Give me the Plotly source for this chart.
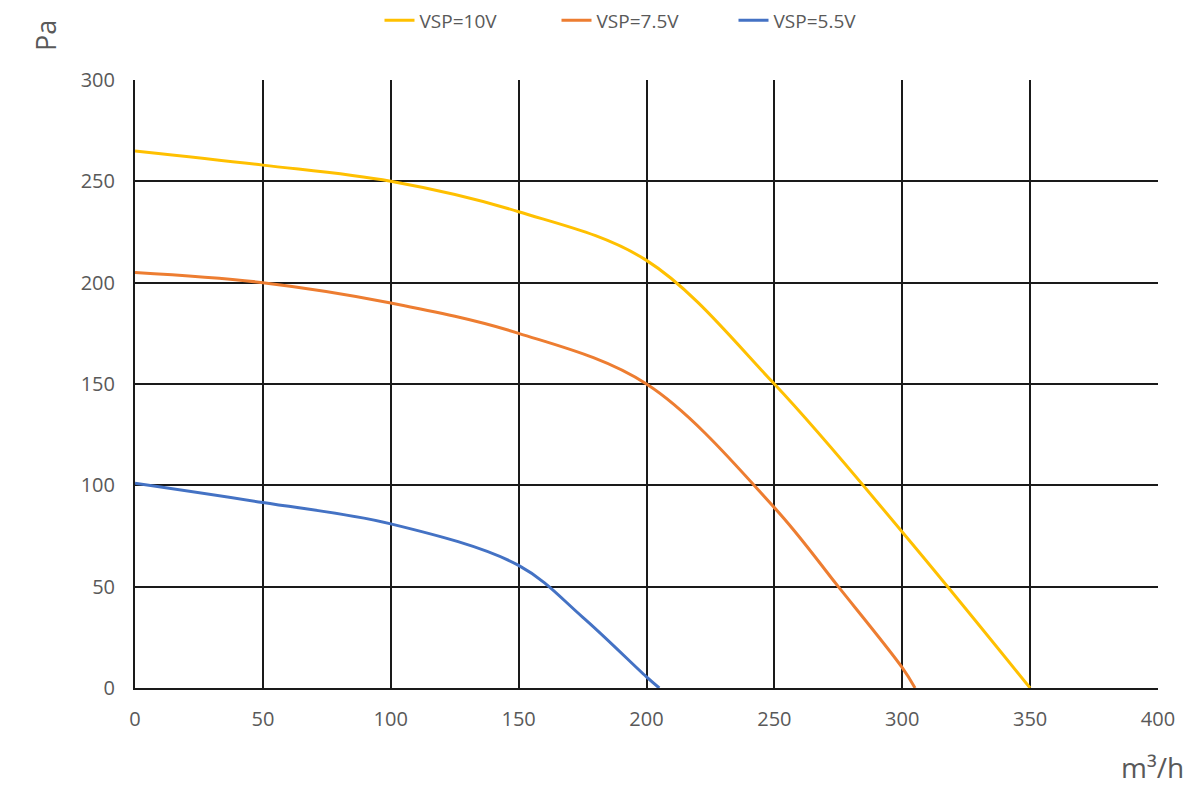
import plotly.graph_objects as go

# Data
flow_10v = [0, 50, 100, 150, 200, 250, 300, 350]
pres_10v = [265, 258, 250, 235, 211, 150, 77, 0]

flow_75v = [0, 50, 100, 150, 200, 250, 275, 300, 305]
pres_75v = [205, 200, 190, 175, 150, 89, 50, 10, 0]

flow_55v = [0, 50, 100, 150, 175, 200, 205]
pres_55v = [101, 91.5, 81, 60.5, 35, 5.5, 0]

series_names = ["VSP=10V", "VSP=7.5V", "VSP=5.5V"]
series_colors = ["#FFC000", "#ED7D31", "#4472C4"]

x_ticks = [0, 50, 100, 150, 200, 250, 300, 350, 400]
y_ticks = [0, 50, 100, 150, 200, 250, 300]

FONT = "Open Sans"
GREY = "#595959"

fig = go.Figure()
for xs, ys, name, col in zip([flow_10v, flow_75v, flow_55v],
                             [pres_10v, pres_75v, pres_55v],
                             series_names, series_colors):
    fig.add_trace(go.Scatter(x=xs, y=ys, mode="lines", name=name,
                             line=dict(color=col, width=3, shape="spline", smoothing=1.0)))

fig.update_layout(
    width=1200, height=800,
    paper_bgcolor="white", plot_bgcolor="white",
    margin=dict(l=127, r=50, t=72, b=120, autoexpand=False),
    font=dict(family=FONT, color=GREY, size=18),
    showlegend=True,
    legend=dict(orientation="h", x=0.239, y=1.098, xanchor="left", yanchor="middle",
                font=dict(family=FONT, size=19, color=GREY),
                bgcolor="rgba(0,0,0,0)", itemwidth=30, tracegroupgap=0,
                entrywidth=132, entrywidthmode="pixels"),
    xaxis=dict(range=[0, 400], tickvals=x_ticks, ticktext=[str(v) for v in x_ticks],
               showgrid=True, gridcolor="#1a1a1a", gridwidth=2,
               showline=True, linecolor="#1a1a1a", linewidth=2, mirror=False,
               zeroline=False, ticks="outside", ticklen=12, tickcolor="rgba(0,0,0,0)",
               tickfont=dict(family=FONT, size=20, color=GREY)),
    yaxis=dict(range=[0, 300], tickvals=y_ticks, ticktext=[str(v) for v in y_ticks],
               showgrid=True, gridcolor="#1a1a1a", gridwidth=2,
               showline=True, linecolor="#1a1a1a", linewidth=2,
               zeroline=False, ticks="outside", ticklen=14, tickcolor="rgba(0,0,0,0)",
               tickfont=dict(family=FONT, size=20, color=GREY)),
)

fig.add_annotation(text="Pa", xref="paper", yref="paper", x=-0.088, y=1.074,
                   showarrow=False, textangle=-90, xanchor="center", yanchor="middle",
                   font=dict(family=FONT, size=27, color=GREY))
fig.add_annotation(text="m³/h", xref="paper", yref="paper", x=1.027, y=-0.13,
                   showarrow=False, xanchor="right", yanchor="middle",
                   font=dict(family=FONT, size=28, color=GREY))

fig.write_html("out.html")
